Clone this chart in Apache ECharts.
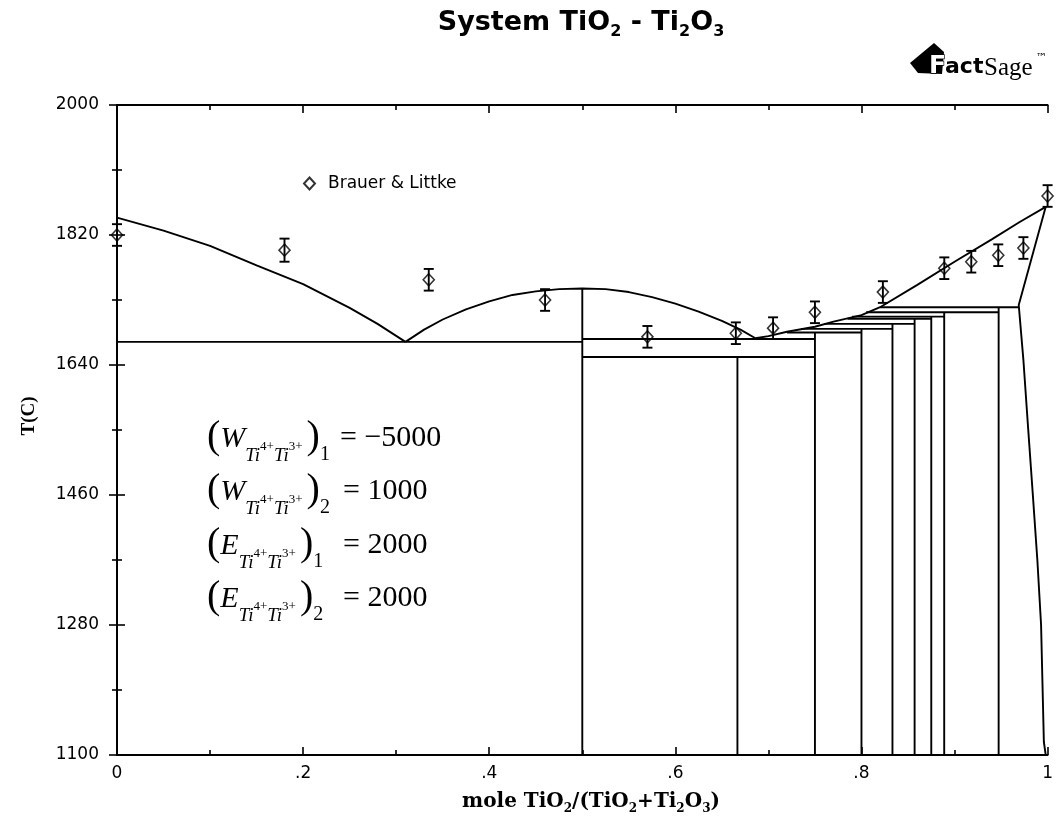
<!DOCTYPE html>
<html><head><meta charset="utf-8">
<script src="https://cdn.jsdelivr.net/npm/echarts@6/dist/echarts.min.js"></script>
<style>html,body{margin:0;padding:0;background:#fff}#c{width:1056px;height:835px}</style>
</head><body><div id="c"></div>
<script>
// ---------- data ----------
const xTicks = [0, 0.2, 0.4, 0.6, 0.8, 1];
const xTickLabels = ['0', '.2', '.4', '.6', '.8', '1'];
const yTicks = [1100, 1280, 1460, 1640, 1820, 2000];
const yTickLabels = ['1100', '1280', '1460', '1640', '1820', '2000'];

const liqLeftX = [0, 0.05, 0.10, 0.15, 0.20, 0.25, 0.28, 0.31];
const liqLeftT = [1844, 1826, 1805, 1778, 1752, 1719, 1697, 1672];
const domeX = [0.31, 0.33, 0.35, 0.375, 0.40, 0.425, 0.45, 0.475, 0.50, 0.525, 0.55, 0.575, 0.60, 0.625, 0.65, 0.67, 0.686];
const domeT = [1672, 1689, 1703, 1717, 1728, 1737, 1742, 1745, 1746, 1745, 1741, 1734, 1725, 1714, 1701, 1689, 1677];
const liqRightX = [0.686, 0.70, 0.72, 0.75, 0.77, 0.80, 0.82, 0.86, 0.90, 0.94, 0.97, 0.998];
const liqRightT = [1677, 1680, 1686, 1693, 1700, 1709, 1720, 1751, 1783, 1814, 1838, 1859];
const rutileX = [0.998, 0.969, 0.974, 0.979, 0.984, 0.989, 0.993, 0.996, 0.998];
const rutileT = [1859, 1723, 1647, 1554, 1463, 1370, 1280, 1118, 1100];

const phaseX = [0.5, 0.6667, 0.75, 0.8, 0.8333, 0.8571, 0.875, 0.8889, 0.9474];
const phaseTopT = [1746, 1651, 1685, 1690, 1697, 1704, 1707, 1713, 1720];

const isoX1 = [0, 0.5, 0.5, 0.72, 0.735, 0.76, 0.785, 0.79, 0.805, 0.82];
const isoX2 = [0.5, 0.75, 0.75, 0.8, 0.8333, 0.8571, 0.875, 0.8889, 0.9474, 0.969];
const isoT = [1672, 1676, 1651, 1685, 1690, 1697, 1704, 1707, 1713, 1720];

const expX = [0, 0.18, 0.335, 0.46, 0.57, 0.665, 0.705, 0.75, 0.823, 0.889, 0.918, 0.947, 0.974, 1.0];
const expT = [1820, 1799, 1758, 1730, 1679, 1684, 1691, 1713, 1741, 1774, 1783, 1792, 1802, 1874];
const expErr = [15, 16, 15, 15, 15, 15, 15, 15, 15, 15, 15, 15, 15, 15];

const eqLetters = ['W', 'W', 'E', 'E'];
const eqIndex = ['1', '2', '1', '2'];
const eqValues = ['\u22125000', '1000', '2000', '2000'];

// ---------- helpers ----------
const BLK = '#000';
const LW = 1.9;
const zip = (xs, ys) => xs.map((x, i) => [x, ys[i]]);
function seg(data) {
  return { type: 'line', data: data, symbol: 'none', silent: true, z: 2,
    lineStyle: { color: BLK, width: LW }, animation: false };
}

const cv = document.createElement('canvas').getContext('2d');
function fontStr(p) { return (p.style || 'normal') + ' ' + (p.weight || 'normal') + ' ' + p.size + 'px ' + p.family; }
function run(x0, base, pieces, align) {
  const ws = pieces.map(p => { cv.font = fontStr(p); return cv.measureText(p.t).width + (p.gap || 0); });
  const total = ws.reduce((a, b) => a + b, 0);
  let x = align === 'center' ? x0 - total / 2 : x0;
  const out = [];
  pieces.forEach((p, i) => {
    const f = fontStr(p);
    cv.font = f;
    const m = cv.measureText('Hg');
    const mid = (m.fontBoundingBoxAscent - m.fontBoundingBoxDescent) / 2;
    out.push({ type: 'text', x: x, y: base + (p.dy || 0) - mid, silent: true, z: 10,
      style: { text: p.t, font: f, fill: BLK, align: 'left', verticalAlign: 'middle' } });
    x += ws[i];
  });
  return out;
}

// ---------- series ----------
const series = [];
series.push(seg(zip(liqLeftX, liqLeftT)));
series.push(seg(zip(domeX, domeT)));
series.push(seg(zip(liqRightX, liqRightT)));
series.push(seg(zip(rutileX, rutileT)));
phaseX.forEach((x, i) => series.push(seg([[x, 1100], [x, phaseTopT[i]]])));
isoT.forEach((t, i) => series.push(seg([[isoX1[i], t], [isoX2[i], t]])));

series.push({
  type: 'custom', silent: true, z: 3, animation: false,
  encode: { x: 0, y: [1, 2] },
  data: expX.map((x, i) => [x, expT[i] - expErr[i], expT[i] + expErr[i]]),
  renderItem: function (params, api) {
    const lo = api.coord([api.value(0), api.value(1)]);
    const hi = api.coord([api.value(0), api.value(2)]);
    const w = 5;
    const st = { stroke: BLK, lineWidth: LW };
    return { type: 'group', children: [
      { type: 'line', shape: { x1: lo[0], y1: lo[1], x2: hi[0], y2: hi[1] }, style: st },
      { type: 'line', shape: { x1: lo[0] - w, y1: lo[1], x2: lo[0] + w, y2: lo[1] }, style: st },
      { type: 'line', shape: { x1: hi[0] - w, y1: hi[1], x2: hi[0] + w, y2: hi[1] }, style: st }
    ] };
  }
});
series.push({
  type: 'scatter', name: 'Brauer & Littke', data: zip(expX, expT), z: 4,
  symbol: 'diamond', symbolSize: [11, 12], animation: false,
  itemStyle: { color: 'rgba(255,255,255,0)', borderColor: BLK, borderWidth: 1.6 }
});

// ---------- text graphics ----------
const graphics = [];
// title
graphics.push(...run(581, 32, [
  { t: 'System TiO', size: 27, weight: 'bold', family: 'DejaVu Sans' },
  { t: '2', size: 16, weight: 'bold', family: 'DejaVu Sans', dy: 5 },
  { t: ' - Ti', size: 27, weight: 'bold', family: 'DejaVu Sans' },
  { t: '2', size: 16, weight: 'bold', family: 'DejaVu Sans', dy: 5 },
  { t: 'O', size: 27, weight: 'bold', family: 'DejaVu Sans' },
  { t: '3', size: 16, weight: 'bold', family: 'DejaVu Sans', dy: 5 }
], 'center'));
// x axis name
graphics.push(...run(591, 809, [
  { t: 'mole TiO', size: 20, weight: 'bold', family: 'DejaVu Serif' },
  { t: '2', size: 12, weight: 'bold', family: 'DejaVu Serif', dy: 4 },
  { t: '/(TiO', size: 20, weight: 'bold', family: 'DejaVu Serif' },
  { t: '2', size: 12, weight: 'bold', family: 'DejaVu Serif', dy: 4 },
  { t: '+Ti', size: 20, weight: 'bold', family: 'DejaVu Serif' },
  { t: '2', size: 12, weight: 'bold', family: 'DejaVu Serif', dy: 4 },
  { t: 'O', size: 20, weight: 'bold', family: 'DejaVu Serif' },
  { t: '3', size: 12, weight: 'bold', family: 'DejaVu Serif', dy: 4 },
  { t: ')', size: 20, weight: 'bold', family: 'DejaVu Serif' }
], 'center'));
// y axis name
graphics.push({ type: 'text', x: 29, y: 416, rotation: Math.PI / 2, silent: true,
  style: { text: 'T(C)', font: 'bold 19px "Liberation Serif"', fill: BLK, align: 'center', verticalAlign: 'middle' } });
// equations
const SER = '"Liberation Serif"';
const eqBase = [450, 503, 557, 610];
eqBase.forEach((b, r) => {
  graphics.push(...run(207, b, [
    { t: '(', size: 40, family: SER, dy: 1 },
    { t: eqLetters[r], size: 30, style: 'italic', family: SER, gap: 0 },
    { t: 'Ti', size: 19, style: 'italic', family: SER, dy: 12 },
    { t: '4+', size: 13, family: SER, dy: 1 },
    { t: 'Ti', size: 19, style: 'italic', family: SER, dy: 12 },
    { t: '3+', size: 13, family: SER, dy: 1, gap: 4 },
    { t: ')', size: 40, family: SER, dy: 1 },
    { t: eqIndex[r], size: 20, family: SER, dy: 12 }
  ], 'left'));
  graphics.push(...run(r === 0 ? 340 : 343, b - 1, [
    { t: '= ' + eqValues[r], size: 30, family: SER }
  ], 'left'));
});
// FactSage logo
graphics.push({ type: 'polygon', silent: true, z: 9,
  shape: { points: [[910, 63], [934, 43], [944, 52], [942, 74], [918, 73]] }, style: { fill: BLK } });
graphics.push({ type: 'text', x: 929, y: 66, silent: true, z: 10,
  style: { text: 'F', font: 'bold 25px "DejaVu Sans"', fill: '#fff', stroke: BLK, lineWidth: 1.4, align: 'left', verticalAlign: 'middle' } });
graphics.push({ type: 'text', x: 945, y: 67, silent: true, z: 10,
  style: { text: 'act', font: 'bold 22px "DejaVu Sans"', fill: BLK, align: 'left', verticalAlign: 'middle' } });
graphics.push({ type: 'text', x: 984, y: 68, silent: true, z: 10,
  style: { text: 'Sage', font: '25px "Liberation Serif"', fill: BLK, align: 'left', verticalAlign: 'middle' } });
graphics.push({ type: 'text', x: 1036, y: 58, silent: true, z: 10,
  style: { text: '\u2122', font: '11px "DejaVu Sans"', fill: BLK, align: 'left', verticalAlign: 'middle' } });

// ---------- axes ----------
function lab(ticks, labels) {
  return v => { const i = ticks.findIndex(t => Math.abs(t - v) < 1e-6); return i >= 0 ? labels[i] : ''; };
}
const axisCommon = {
  axisLine: { show: true, lineStyle: { color: BLK, width: LW } },
  axisTick: { show: true, inside: true, length: 8, lineStyle: { color: BLK, width: 1.6 } },
  minorTick: { show: true, splitNumber: 2, length: 5, lineStyle: { color: BLK, width: 1.6 } },
  splitLine: { show: false }, minorSplitLine: { show: false }
};
const option = {
  backgroundColor: '#fff',
  animation: false,
  grid: { left: 117, right: 4, top: 105, bottom: 80 },
  legend: {
    data: ['Brauer & Littke'], left: 298, top: 170, itemWidth: 11, itemHeight: 12,
    textStyle: { fontFamily: 'DejaVu Sans', fontSize: 17, color: BLK, padding: [0, 0, 0, 8] },
    selectedMode: false
  },
  xAxis: [
    Object.assign({ type: 'value', min: 0, max: 1, interval: 0.2, position: 'bottom',
      axisLabel: { formatter: lab(xTicks, xTickLabels), margin: 10, fontFamily: 'DejaVu Sans', fontSize: 17, color: BLK } }, axisCommon),
    Object.assign({ type: 'value', min: 0, max: 1, interval: 0.2, position: 'top', axisLabel: { show: false } }, axisCommon)
  ],
  yAxis: [
    Object.assign({ type: 'value', min: 1100, max: 2000, interval: 180, position: 'left',
      axisLabel: { formatter: lab(yTicks, yTickLabels), margin: 18, fontFamily: 'DejaVu Sans', fontSize: 17, color: BLK } }, axisCommon),
    Object.assign({ type: 'value', min: 1100, max: 2000, interval: 180, position: 'right', axisLabel: { show: false } }, axisCommon)
  ],
  graphic: { elements: graphics },
  series: series
};
const chart = echarts.init(document.getElementById('c'), null, { renderer: 'canvas' });
chart.setOption(option);
</script>
</body></html>
